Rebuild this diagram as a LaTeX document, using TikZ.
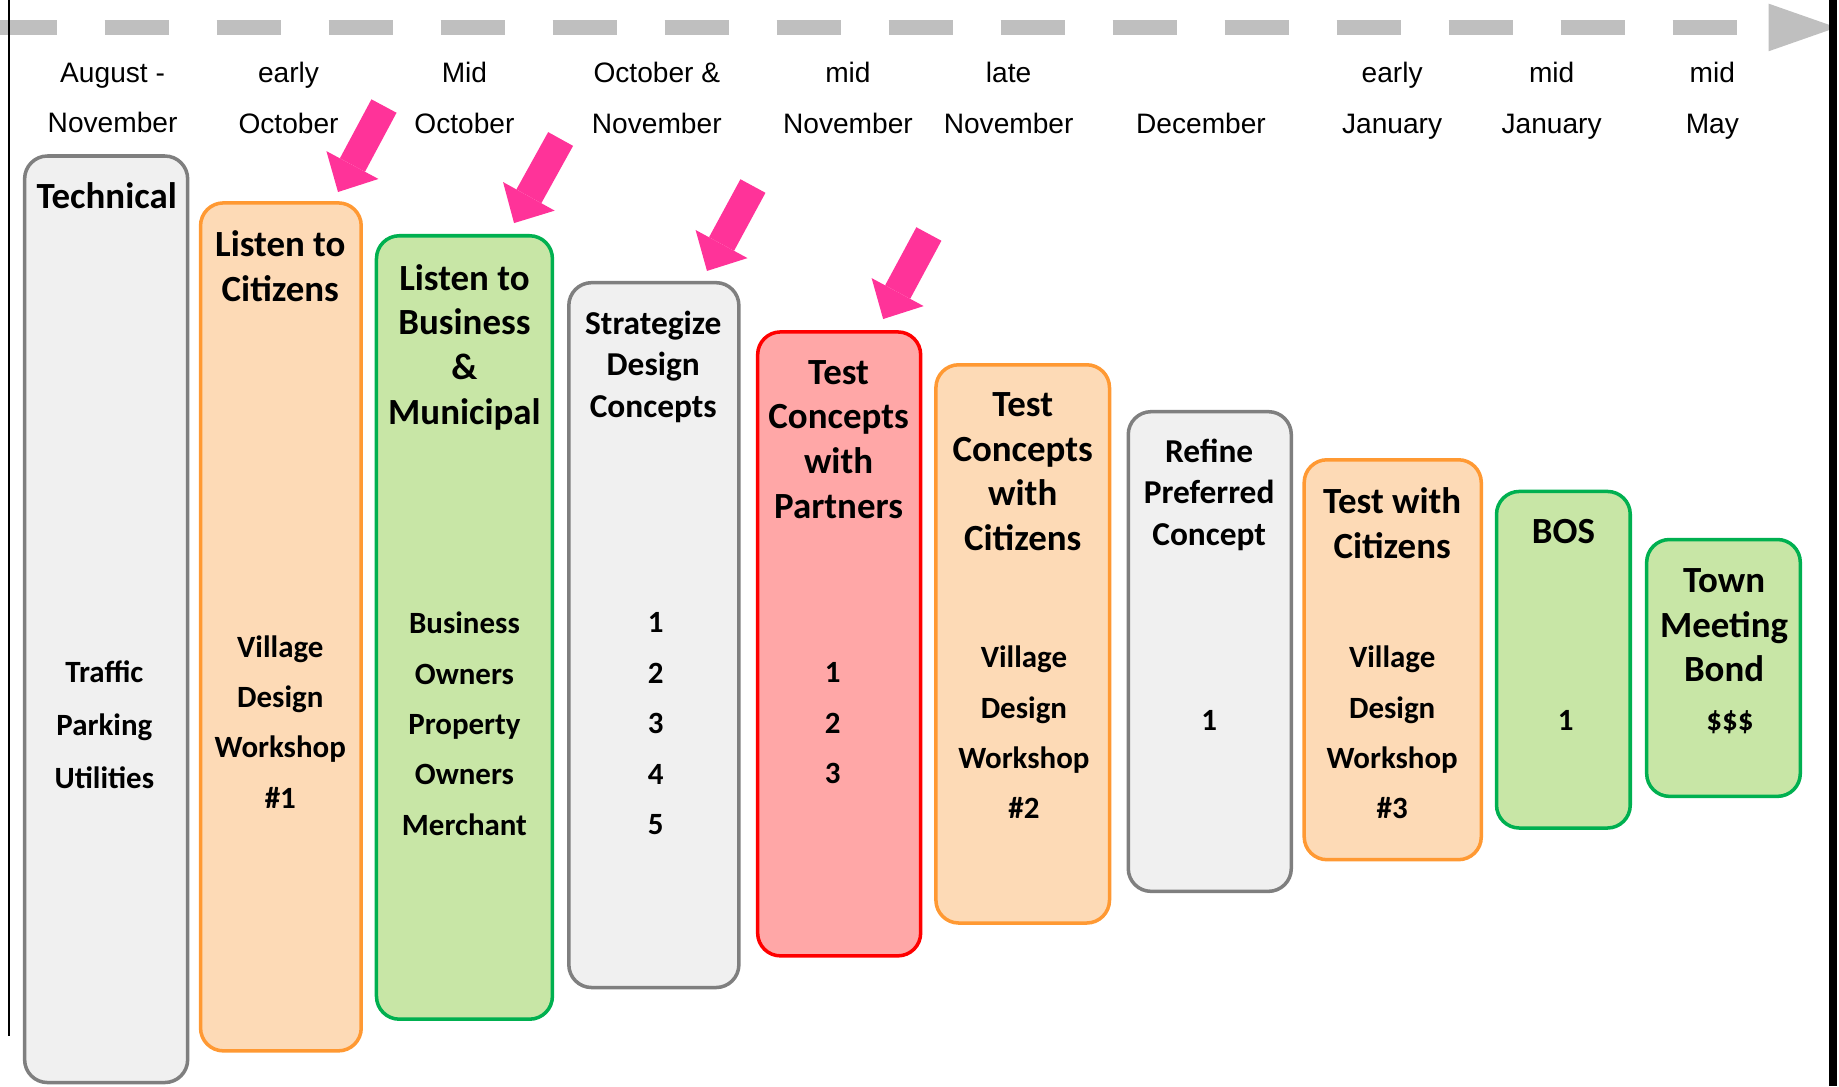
\documentclass[tikz,border=0pt]{standalone}
\usepackage{fontspec}
\setmainfont{Liberation Sans}
\newfontfamily\calibri{Carlito}
\usetikzlibrary{arrows.meta}
\definecolor{dashgray}{HTML}{BFBFBF}
\definecolor{boxgray}{HTML}{7F7F7F}
\definecolor{fillgray}{HTML}{F0F0F0}
\definecolor{boxorange}{HTML}{FF9933}
\definecolor{fillorange}{HTML}{FDDAB6}
\definecolor{boxgreen}{HTML}{00B050}
\definecolor{fillgreen}{HTML}{C8E6A6}
\definecolor{boxred}{HTML}{FF0000}
\definecolor{fillred}{HTML}{FFA7A7}
\definecolor{arrowpink}{HTML}{FF3399}
\newlength\pu
\setlength\pu{0.33369pt}

\begin{document}
\begin{tikzpicture}[x=0.33369pt, y=-0.33369pt,
    phase/.style={draw, line width=1pt, rounded corners=6.5pt, inner sep=0pt},
    grayphase/.style={phase, draw=boxgray, fill=fillgray},
    orangephase/.style={phase, draw=boxorange, fill=fillorange},
    greenphase/.style={phase, draw=boxgreen, fill=fillgreen},
    redphase/.style={phase, draw=boxred, fill=fillred},
    phasetitle/.style={font=\calibri\bfseries\fontsize{10.5}{12.7}\selectfont, align=center, inner sep=0pt, text depth=0pt},
    smalltitle/.style={font=\calibri\bfseries\fontsize{9.5}{11.8}\selectfont, align=center, inner sep=0pt, text depth=0pt},
    phasebody/.style={font=\calibri\bfseries\fontsize{8.8}{14.35}\selectfont, align=center, inner sep=0pt, text depth=0pt},
    datelabel/.style={font=\fontsize{8}{14.35}\selectfont, align=center, inner sep=0pt, text depth=0pt},
    pinkarrow/.style={arrowpink, line width=8.1pt, -{Triangle[width=16.8pt, length=8.7pt, line width=0pt]}},
    timeline/.style={dashgray, line width=4.47pt, dash pattern=on 18.22pt off 13.65pt,
        -{Triangle[width=13.55pt, length=19.35pt, line width=0pt]}}]
        \useasboundingbox (0,0) rectangle (1568,926);

        % time axis
        \coordinate (tlstart) at (-6.4,23.4);
        \coordinate (tlend) at (1566,23.4);
        \draw[timeline] (tlstart) -- (tlend);

        \coordinate (lefttop) at (7.5,0);
        \coordinate (leftbottom) at (7.5,883);
        \draw[line width=0.7pt] (lefttop) -- (leftbottom);
        \coordinate (righttop) at (1563,0);
        \coordinate (rightbottom) at (1563,926);
        \draw[line width=2.2pt] (righttop) -- (rightbottom);

        % dates
        \node[datelabel] (augnov) at (96,83.5) {August -\\November};
        \node[datelabel] (earlyoct) at (246,83.5) {early\\October};
        \node[datelabel] (midoct) at (396,83.5) {Mid\\October};
        \node[datelabel] (octnov) at (560,83.5) {October \&\\November};
        \node[datelabel] (midnov) at (723,83.5) {mid\\November};
        \node[datelabel] (latenov) at (860,83.5) {late\\November};
        \node[datelabel] (dec) at (1024,105) {December};
        \node[datelabel] (earlyjan) at (1187,83.5) {early\\January};
        \node[datelabel] (midjan) at (1323,83.5) {mid\\January};
        \node[datelabel] (midmay) at (1460,83.5) {mid\\May};

        % phases
        \node[grayphase, minimum width=139*\pu, minimum height=790*\pu] (technical) at (90.5,528) {};
        \node[phasetitle] (technicaltitle) at (91,167) {Technical};
        \node[phasebody, font=\calibri\bfseries\fontsize{8.8}{15}\selectfont] (technicalbody) at (89,618) {Traffic\\Parking\\Utilities};

        \node[orangephase, minimum width=137*\pu, minimum height=723*\pu] (citizens) at (239.5,534.5) {};
        \node[phasetitle] (citizenstitle) at (239,227) {Listen to\\Citizens};
        \node[phasebody] (citizensbody) at (239,615.5) {Village\\Design\\Workshop\\\#1};

        \node[greenphase, minimum width=150*\pu, minimum height=668*\pu] (business) at (396,535) {};
        \node[phasetitle] (businesstitle) at (396,293.5) {Listen to\\Business\\\&\\Municipal};
        \node[phasebody] (businessbody) at (396,617) {Business\\Owners\\Property\\Owners\\Merchant};

        \node[grayphase, minimum width=145*\pu, minimum height=601*\pu] (strategize) at (557.5,541.5) {};
        \node[smalltitle] (strategizetitle) at (557,310.5) {Strategize\\Design\\Concepts};
        \node[phasebody] (strategizebody) at (559,617) {1\\2\\3\\4\\5};

        \node[redphase, minimum width=139*\pu, minimum height=532*\pu] (partners) at (715.5,549) {};
        \node[phasetitle] (partnerstitle) at (715,374.5) {Test\\Concepts\\with\\Partners};
        \node[phasebody] (partnersbody) at (710,616.5) {1\\2\\3};

        \node[orangephase, minimum width=148*\pu, minimum height=476*\pu] (workshoptwo) at (872,549) {};
        \node[phasetitle] (workshoptwotitle) at (872,402) {Test\\Concepts\\with\\Citizens};
        \node[phasebody] (workshoptwobody) at (873,624.5) {Village\\Design\\Workshop\\\#2};

        \node[grayphase, minimum width=139*\pu, minimum height=409*\pu] (refine) at (1031.5,555.5) {};
        \node[smalltitle] (refinetitle) at (1031,419.5) {Refine\\Preferred\\Concept};
        \node[phasebody] (refinebody) at (1031,614) {1};

        \node[orangephase, minimum width=151*\pu, minimum height=341*\pu] (workshopthree) at (1187.5,562.5) {};
        \node[phasetitle] (workshopthreetitle) at (1187,446) {Test with\\Citizens};
        \node[phasebody] (workshopthreebody) at (1187,624.5) {Village\\Design\\Workshop\\\#3};

        \node[greenphase, minimum width=114*\pu, minimum height=287*\pu] (bos) at (1333,562.5) {};
        \node[phasetitle] (bostitle) at (1333,453) {BOS};
        \node[phasebody] (bosbody) at (1335,614) {1};

        \node[greenphase, minimum width=131*\pu, minimum height=219*\pu] (townmeeting) at (1469.5,569.5) {};
        \node[phasetitle] (townmeetingtitle) at (1470,533) {Town\\Meeting\\Bond};
        \node[phasebody] (townmeetingbody) at (1475,614) {\$\$\$};

        % pointers
        \coordinate (citizenstail) at (327.4,90.4);
        \coordinate (citizenstip) at (288.2,163.7);
        \draw[pinkarrow] (citizenstail) -- (citizenstip);
        \coordinate (businesstail) at (478,118.5);
        \coordinate (businesstip) at (438.3,190.2);
        \draw[pinkarrow] (businesstail) -- (businesstip);
        \coordinate (strategizetail) at (642,158.6);
        \coordinate (strategizetip) at (602.8,231);
        \draw[pinkarrow] (strategizetail) -- (strategizetip);
        \coordinate (partnerstail) at (792,199.5);
        \coordinate (partnerstip) at (753,272);
        \draw[pinkarrow] (partnerstail) -- (partnerstip);

    \end{tikzpicture}
\end{document}
